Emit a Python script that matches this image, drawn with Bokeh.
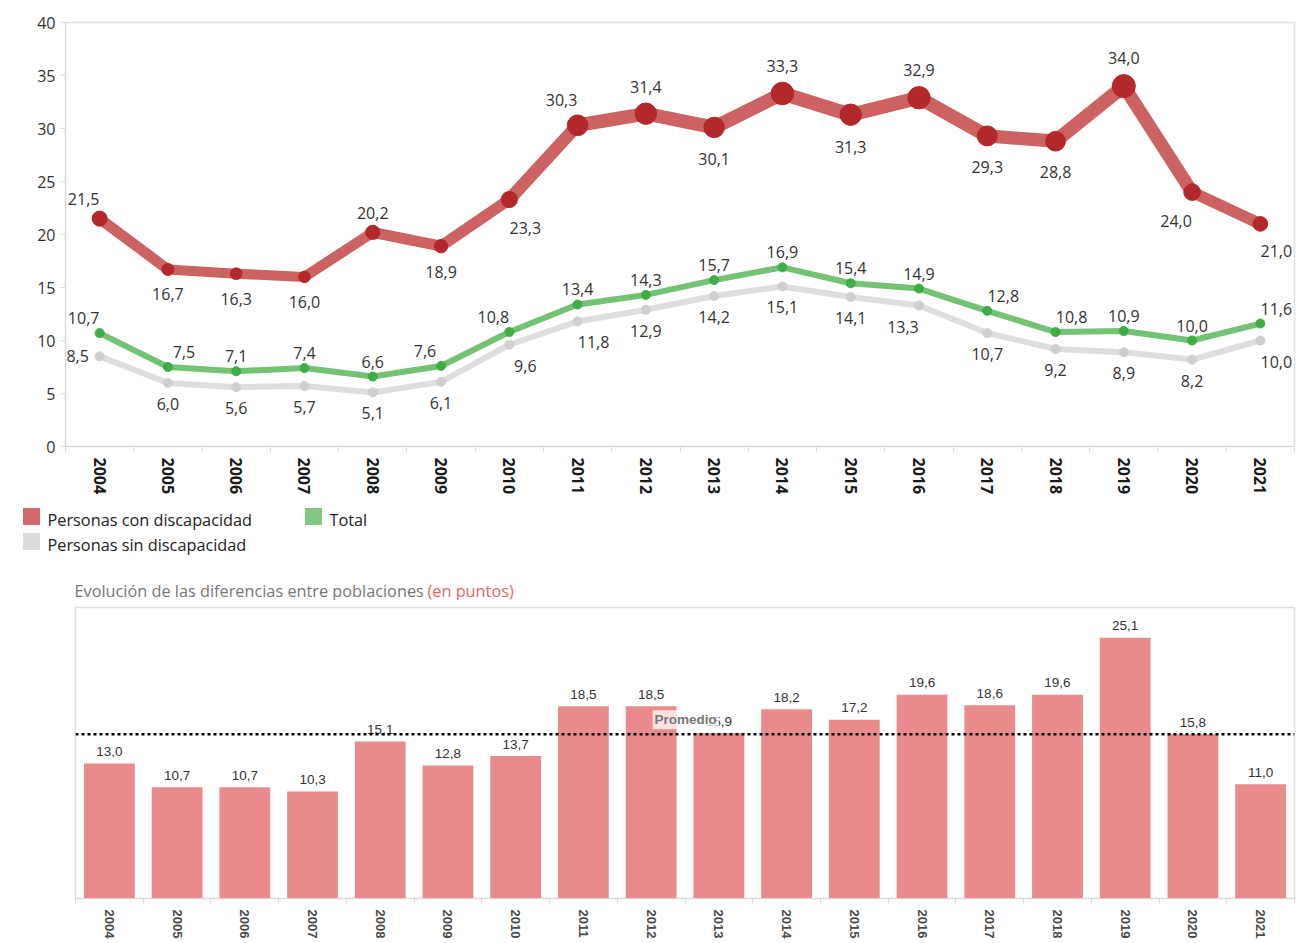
from bokeh.plotting import figure
from bokeh.models import (Range1d, LinearAxis, FixedTicker, Span, Label, ColumnDataSource)
from bokeh.layouts import column
from bokeh.core.properties import value
from bokeh.embed import file_html
from bokeh.resources import INLINE

# ---------------- data ----------------
YEARS = [str(y) for y in range(2004, 2022)]
CON_DISC = [21.5, 16.7, 16.3, 16.0, 20.2, 18.9, 23.3, 30.3, 31.4, 30.1,
            33.3, 31.3, 32.9, 29.3, 28.8, 34.0, 24.0, 21.0]
TOTAL = [10.7, 7.5, 7.1, 7.4, 6.6, 7.6, 10.8, 13.4, 14.3, 15.7,
         16.9, 15.4, 14.9, 12.8, 10.8, 10.9, 10.0, 11.6]
SIN_DISC = [8.5, 6.0, 5.6, 5.7, 5.1, 6.1, 9.6, 11.8, 12.9, 14.2,
            15.1, 14.1, 13.3, 10.7, 9.2, 8.9, 8.2, 10.0]
DIFF = [13.0, 10.7, 10.7, 10.3, 15.1, 12.8, 13.7, 18.5, 18.5, 15.9,
        18.2, 17.2, 19.6, 18.6, 19.6, 25.1, 15.8, 11.0]
Y_TICKS = [0, 5, 10, 15, 20, 25, 30, 35, 40]
SERIES_NAMES = ["Personas con discapacidad", "Total", "Personas sin discapacidad"]
TITLE_MAIN = "Evolución de las diferencias entre poblaciones"
TITLE_UNIT = "(en puntos)"
AVG_LABEL = "Promedio"

# label placement (style)
RED_POS = ["NW", "S", "S", "S", "N", "S", "SE", "NW", "N", "S", "N", "S", "N", "S", "S", "N", "SW", "SE"]
GREEN_POS = ["NW", "NE", "N", "N", "N", "NW", "NW", "N", "N", "N", "N", "N", "N", "NE", "NE", "N", "N", "NE"]
GRAY_POS = ["W", "S", "S", "S", "S", "S", "SE", "SE", "S", "S", "S", "S", "SW", "S", "S", "S", "S", "SE"]

# ---------------- style ----------------
FONT = "Open Sans"
FONT2 = "Liberation Sans"
AXIS_GRAY = "#d9d9d9"
RED_LINE = "#cd6262"
RED_DOT = "#b3282a"
GREEN_LINE = "#74c274"
GREEN_DOT = "#3fad46"
GRAY_LINE = "#dedede"
GRAY_DOT = "#cfcfcf"
BAR = "#e98b8d"
TXT = "#333333"
W = 1308

N = len(YEARS)
XPOS = [i + 0.5 for i in range(N)]  # band centres of the year categories


def fmt(v):
    return f"{v:.1f}".replace(".", ",")


def offsets(codes, above, below, side):
    dx, dy = [], []
    for i, c in enumerate(codes):
        a = above[i] if isinstance(above, list) else above
        b = below[i] if isinstance(below, list) else below
        if c == "W":
            dx.append(-side - 6); dy.append(0)
            continue
        ox = -side if "W" in c else (side if "E" in c else 0)
        oy = -a if c.startswith("N") else b
        dx.append(ox); dy.append(oy)
    return dx, dy


def year_axes(p, font, size, bold, color):
    # boundary tick marks (like the category separators)
    ax = LinearAxis(ticker=FixedTicker(ticks=list(range(N + 1))),
                    major_label_overrides={i: "" for i in range(N + 1)},
                    major_label_text_font_size="1px", major_label_standoff=0,
                    major_tick_in=0, major_tick_out=5,
                    minor_tick_line_color=None,
                    axis_line_color=AXIS_GRAY, major_tick_line_color=AXIS_GRAY)
    p.add_layout(ax, "below")
    lab = LinearAxis(ticker=FixedTicker(ticks=XPOS),
                     major_label_overrides={x: y for x, y in zip(XPOS, YEARS)},
                     major_label_orientation="vertical",
                     axis_line_color=None, major_tick_line_color=None,
                     minor_tick_line_color=None,
                     major_label_standoff=0,
                     major_label_text_font=font,
                     major_label_text_font_style="bold" if bold else "normal",
                     major_label_text_font_size=size,
                     major_label_text_color=color)
    p.add_layout(lab, "below")


# ---------------- top line chart ----------------
p1 = figure(width=W, height=498,
            x_range=Range1d(0, N), y_range=Range1d(0, 40),
            x_axis_location=None, output_backend="svg", toolbar_location=None,
            min_border_left=65, min_border_right=14, min_border_top=22,
            min_border_bottom=52, frame_align=False)
p1.grid.visible = False
p1.outline_line_color = "#e0e0e0"
p1.outline_line_width = 1.5
p1.background_fill_color = "white"
p1.border_fill_color = "white"

p1.yaxis.ticker = FixedTicker(ticks=Y_TICKS)
p1.yaxis.major_tick_in = 0
p1.yaxis.major_tick_out = 5
p1.yaxis.minor_tick_line_color = None
p1.yaxis.axis_line_color = AXIS_GRAY
p1.yaxis.major_tick_line_color = AXIS_GRAY
p1.yaxis.major_label_text_font = FONT
p1.yaxis.major_label_text_font_size = "16px"
p1.yaxis.major_label_text_color = TXT
p1.yaxis.major_label_standoff = 5

year_axes(p1, FONT, "16px", True, "#1a1a1a")

# gray series
p1.line(x=XPOS, y=SIN_DISC, line_color=GRAY_LINE, line_width=6, line_join="round")
p1.scatter(x=XPOS, y=SIN_DISC, size=9, color=GRAY_DOT)
# green series
p1.line(x=XPOS, y=TOTAL, line_color=GREEN_LINE, line_width=6, line_join="round")
p1.scatter(x=XPOS, y=TOTAL, size=9, color=GREEN_DOT)
# red series (width and dot size encode value)
red_w = [6 + 0.25 * (a + b) / 2 for a, b in zip(CON_DISC[:-1], CON_DISC[1:])]
seg_src = ColumnDataSource(dict(x0=XPOS[:-1], y0=CON_DISC[:-1],
                                x1=XPOS[1:], y1=CON_DISC[1:], w=red_w))
p1.segment(x0="x0", y0="y0", x1="x1", y1="y1", line_width="w",
           line_color=RED_LINE, line_cap="round", source=seg_src)
red_size = [1.3 + 0.64 * v for v in CON_DISC]
p1.scatter(x=XPOS, y=CON_DISC, size=red_size, color=RED_DOT)

# labels
red_r = [s / 2 for s in red_size]
rdx, rdy = offsets(RED_POS, [5 + 2 * r for r in red_r], [16 + 1.5 * r for r in red_r], 16)
gdx, gdy = offsets(GREEN_POS, 15, 15, 16)
sdx, sdy = offsets(GRAY_POS, 21, 21, 16)
for vals, dx, dy in [(SIN_DISC, sdx, sdy), (TOTAL, gdx, gdy), (CON_DISC, rdx, rdy)]:
    src = ColumnDataSource(dict(x=XPOS, y=vals, t=[fmt(v) for v in vals], dx=dx, dy=dy))
    p1.text(x="x", y="y", text="t", x_offset="dx", y_offset="dy", source=src,
            text_align="center", text_baseline="middle",
            text_font=value(FONT), text_font_size="16px", text_color=TXT)

# ---------------- legend + title strip ----------------
pl = figure(width=W, height=102, x_range=Range1d(0, W), y_range=Range1d(102, 0),
            x_axis_location=None, y_axis_location=None, min_border=0,
            min_border_left=0, min_border_right=0, min_border_top=0, min_border_bottom=0,
            output_backend="svg", toolbar_location=None, frame_align=False)
pl.grid.visible = False
pl.outline_line_color = None
pl.border_fill_color = "white"
sw_colors = ["#d06a6a", "#82c882", "#dcdcdc"]
sw_x = [31, 313, 31]
sw_y = [18, 18, 43]
pl.rect(x=sw_x, y=sw_y, width=17, height=17, width_units="screen",
        height_units="screen", fill_color=sw_colors, line_color=None)
pl.text(x=[x + 16 for x in sw_x], y=[y + 3 for y in sw_y], text=SERIES_NAMES,
        text_align="left", text_baseline="middle", text_font=value(FONT),
        text_font_size="16.3px", text_color="#222222")
pl.text(x=[74], y=[92], text=[TITLE_MAIN], text_align="left", text_baseline="middle",
        text_font=value(FONT), text_font_size="16.3px", text_color="#777777")
pl.text(x=[427], y=[92], text=[TITLE_UNIT], text_align="left", text_baseline="middle",
        text_font=value(FONT), text_font_size="16.3px", text_color="#e06666")

# ---------------- bar chart ----------------
p2 = figure(width=W, height=341,
            x_range=Range1d(0, N), y_range=Range1d(0, 28),
            x_axis_location=None, y_axis_location=None,
            output_backend="svg", toolbar_location=None,
            min_border_left=75, min_border_right=14, min_border_top=7,
            min_border_bottom=42, frame_align=False)
p2.grid.visible = False
p2.outline_line_color = "#e0e0e0"
p2.outline_line_width = 1.5
p2.border_fill_color = "white"

year_axes(p2, FONT2, "13px", True, "#4a4a4a")

p2.vbar(x=XPOS, top=DIFF, width=0.75, fill_color=BAR, line_color=None)
p2.text(x=XPOS, y=DIFF, text=[fmt(v) for v in DIFF], y_offset=-12,
        text_align="center", text_baseline="middle", text_font=value(FONT2),
        text_font_size="13.5px", text_color=TXT)

avg = sum(DIFF) / len(DIFF)
p2.add_layout(Span(location=avg, dimension="width", line_color="black",
                   line_width=2.5, line_dash="3 3"))
p2.add_layout(Label(x=XPOS[YEARS.index("2013")], y=avg, x_offset=0, y_offset=5,
                    text=AVG_LABEL, text_align="right", text_baseline="bottom",
                    text_font=FONT2, text_font_style="bold", text_font_size="13.5px",
                    text_color="#777777", background_fill_color="white",
                    background_fill_alpha=0.75, padding=2))

layout = column(p1, pl, p2, spacing=0)
open("out.html", "w").write(file_html(layout, INLINE))
